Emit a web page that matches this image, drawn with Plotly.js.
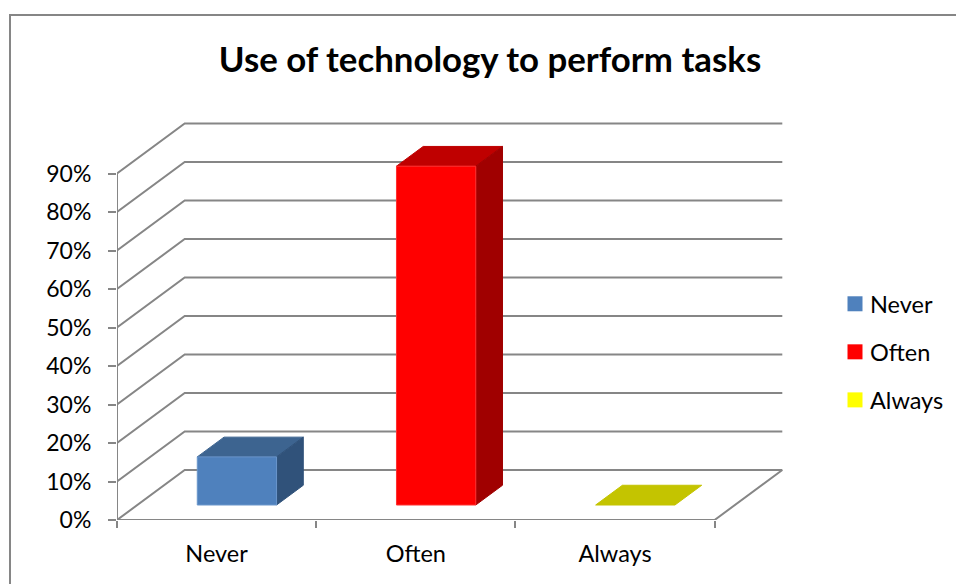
<!DOCTYPE html>
<html>
<head>
<meta charset="utf-8">
<script src="https://cdn.plot.ly/plotly-3.0.1.min.js"></script>
<style>html,body{margin:0;padding:0;background:#fff;overflow:hidden}#chart{width:956px;height:584px}
.legendtext{transform:translateX(-5px)}</style>
</head>
<body>
<div id="chart"></div>
<script>
const chartTitle = 'Use of technology to perform tasks';
const categories = ['Never', 'Often', 'Always'];
const values = [12.5, 88, 0];
const frontColors = ['#4F81BD', '#FF0000', '#FFFF00'];
const topColors = ['#3D6490', '#BF0000', '#C4C400'];
const sideColors = ['#30527A', '#A00000', '#A0A000'];
const edgeColors = ['#6A96CB', '#FF3030', '#E0E040'];
const legendColors = ['#4F81BD', '#FF0000', '#FFFF00'];
const percentTicks = [0, 10, 20, 30, 40, 50, 60, 70, 80, 90];

const gridColor = '#868686';
const font = 'Lato, Carlito, Calibri, sans-serif';
const W = 956, H = 584;
const plotL = 117, plotR = 783, plotT = 122, plotB = 520;
const pxPerCat = 199.2, pxPerPct = 3.85;
const depthX = 67.7 / pxPerCat, depthY = 50 / pxPerPct;
const barWidth = 0.398, barDepthStart = 0.3, barDepthEnd = 0.695;

const project = (x, y, d) => [x + depthX * d, y + depthY * d];
function poly(points, color, edge) {
  const pts = points.map(p => project(p[0], p[1], p[2]));
  pts.push(pts[0]);
  return {
    x: pts.map(p => p[0]), y: pts.map(p => p[1]), mode: 'lines', fill: 'toself',
    fillcolor: color, line: {color: edge, width: 1}, showlegend: false,
    hoverinfo: 'skip', cliponaxis: false
  };
}
function line(points) {
  const pts = points.map(p => project(p[0], p[1], p[2]));
  return {
    x: pts.map(p => p[0]), y: pts.map(p => p[1]), mode: 'lines',
    line: {color: gridColor, width: 2}, showlegend: false,
    hoverinfo: 'skip', cliponaxis: false
  };
}

const xMin = -0.5, xMax = categories.length - 0.5;
const traces = [];
// left wall diagonals + back wall gridlines
percentTicks.forEach(t => {
  traces.push(line([[xMin, t, 0], [xMin, t, 1], [xMax, t, 1]]));
});
// floor and vertical axis
traces.push(line([[xMin, 0, 0], [xMax, 0, 0], [xMax, 0, 1]]));
traces.push(line([[xMin, 0, 0], [xMin, percentTicks[percentTicks.length - 1], 0]]));

// bars
categories.forEach((c, i) => {
  const a = i - barWidth / 2, b = i + barWidth / 2, v = values[i];
  const d0 = barDepthStart, d1 = barDepthEnd;
  traces.push(poly([[a, v, d0], [b, v, d0], [b, v, d1], [a, v, d1]], topColors[i], topColors[i]));
  if (v > 0) {
    traces.push(poly([[b, 0, d0], [b, v, d0], [b, v, d1], [b, 0, d1]], sideColors[i], sideColors[i]));
    traces.push(poly([[a, 0, d0], [b, 0, d0], [b, v, d0], [a, v, d0]], frontColors[i], edgeColors[i]));
  }
});

// legend entries
categories.forEach((c, i) => {
  traces.push({
    x: [null], y: [null], name: c, mode: 'markers', legendgroup: c, showlegend: true,
    marker: {symbol: 'square', size: 15, color: legendColors[i]}, hoverinfo: 'skip'
  });
});

const plotW = plotR - plotL, plotH = plotB - plotT;
const layout = {
  width: W, height: H, autosize: false,
  paper_bgcolor: '#fff', plot_bgcolor: 'rgba(0,0,0,0)',
  margin: {l: plotL, r: W - plotR, t: plotT, b: H - plotB, pad: 0},
  title: {
    text: '<b>' + chartTitle + '</b>', font: {family: font, size: 34.8, color: '#000'},
    x: 490 / W, xanchor: 'center', xref: 'container', y: 1 - 60 / H, yanchor: 'middle', yref: 'container'
  },
  xaxis: {
    range: [xMin, xMin + plotW / pxPerCat], showgrid: false, zeroline: false, showline: false,
    tickmode: 'array', tickvals: categories.map((c, i) => i), ticktext: categories,
    ticks: 'outside', ticklen: 13, tickcolor: 'rgba(0,0,0,0)', tickwidth: 1,
    tickfont: {family: font, size: 23.5, color: '#000'},
    minor: {
      tickmode: 'array', tickvals: [-0.5, 0.5, 1.5, 2.5], ticks: 'outside', ticklen: 7,
      tickcolor: gridColor, tickwidth: 2, showgrid: false
    }
  },
  yaxis: {
    range: [0, plotH / pxPerPct], showgrid: false, zeroline: false, showline: false,
    tickmode: 'array', tickvals: percentTicks, ticktext: percentTicks.map(t => t + '%'),
    ticks: 'outside', ticklen: 8, tickcolor: gridColor, tickwidth: 2, ticklabelstandoff: 12,
    tickfont: {family: font, size: 23, color: '#000'}
  },
  showlegend: true,
  legend: {
    x: 835 / W, xref: 'container', xanchor: 'left', y: 1 - 282 / H, yref: 'container', yanchor: 'top',
    tracegroupgap: 14.5, font: {family: font, size: 23.5, color: '#000'},
    bgcolor: 'rgba(0,0,0,0)', borderwidth: 0, itemwidth: 30, traceorder: 'grouped'
  },
  shapes: [{
    type: 'path', xref: 'paper', yref: 'paper', layer: 'below',
    path: 'M ' + ((10 - plotL) / plotW) + ' ' + ((plotB - 600) / plotH) +
      ' L ' + ((10 - plotL) / plotW) + ' ' + ((plotB - 15) / plotH) +
      ' L ' + ((970 - plotL) / plotW) + ' ' + ((plotB - 15) / plotH),
    line: {color: gridColor, width: 2}
  }]
};
Plotly.newPlot('chart', traces, layout, {displayModeBar: false, responsive: false});
</script>
</body>
</html>
